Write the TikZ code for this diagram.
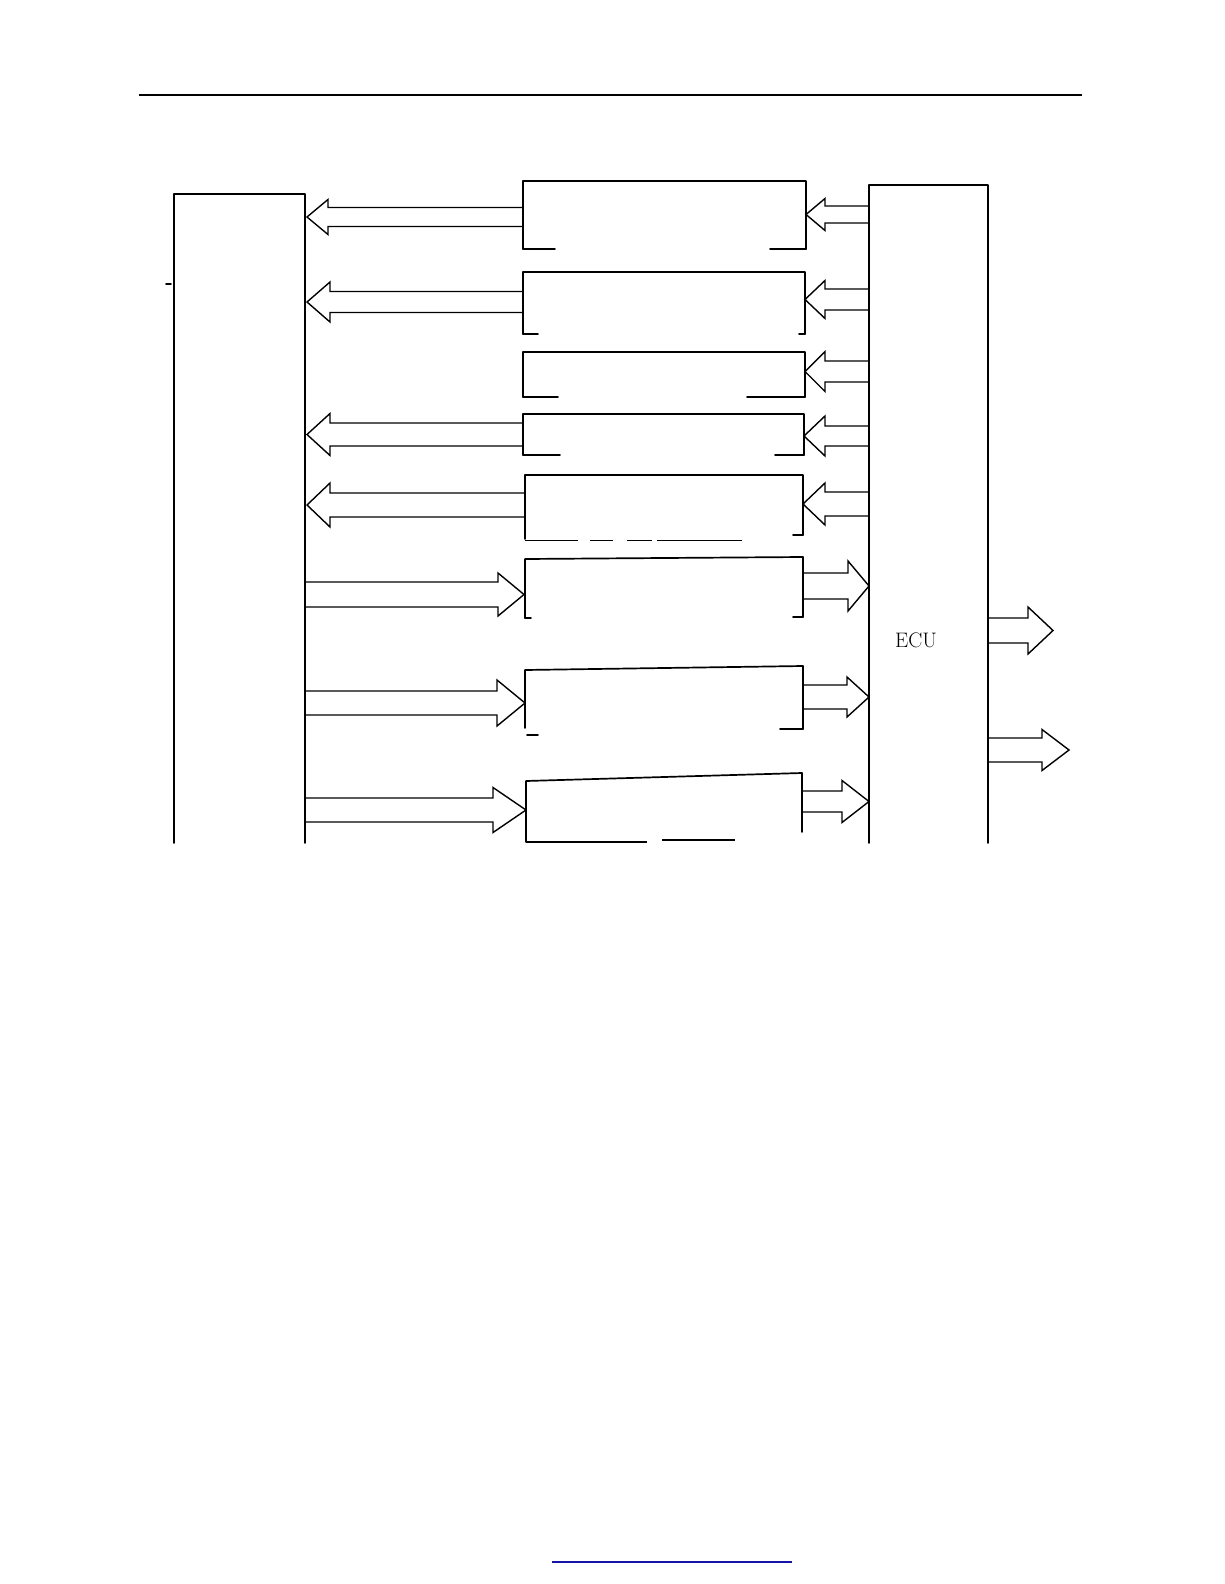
\documentclass[tikz,border=0pt]{standalone}
\usetikzlibrary{calc}
\tikzset{
  edge/.style={line width=1.7pt, line cap=round, line join=round},
  arr/.style={line width=1.4pt, line join=miter},
  rule/.style={line width=1.1pt},
  lbl/.style={font=\fontsize{21}{21}\selectfont, inner sep=0pt}
}
% fat open arrow: base x, head-back x, tip x, centre y, shaft half width, head half width
\newcommand\fatarrow[6]{%
  \draw[arr] (#1,#4-#5) -- (#2,#4-#5) -- (#2,#4-#6) -- (#3,#4) -- (#2,#4+#6) -- (#2,#4+#5) -- (#1,#4+#5);}
\begin{document}
\begin{tikzpicture}[x=1pt,y=-1pt]
\useasboundingbox (0,0) rectangle (1224,1584);
% page rules
\draw[rule] (139,95) coordinate (hl) -- (1082,95) coordinate (hr);
\draw[rule, color={rgb,255:red,20;green,20;blue,170}] (552,1562) coordinate (fl) -- (792,1562) coordinate (fr);

% left block (open at the bottom)
\coordinate (L-tl) at (174,194); \coordinate (L-tr) at (305,194);
\draw[edge] (174,843) -- (L-tl) -- (L-tr) -- (305,843);
\draw[edge] (166,284) -- (171,284);

% ECU block (open at the bottom)
\coordinate (E-tl) at (869,185); \coordinate (E-tr) at (988,185);
\draw[edge] (869,843) -- (E-tl) -- (E-tr) -- (988,843);
\node[lbl] (ecu) at (916,640) {ECU};

% middle boxes (edges as they appear, bottoms partly missing)
\draw[edge] (523,249) -- (523,181) -- (806,181) -- (806,249);
\draw[edge] (523,249) -- (555,249); \draw[edge] (770,249) -- (806,249);

\draw[edge] (523,334) -- (523,272) -- (805,272) -- (805,334);
\draw[edge] (523,334) -- (538,334); \draw[edge] (799,334) -- (805,334);

\draw[edge] (523,397) -- (523,352) -- (805,352) -- (805,397);
\draw[edge] (523,397) -- (558,397); \draw[edge] (747,397) -- (805,397);

\draw[edge] (523,455) -- (523,414) -- (804,414) -- (804,455);
\draw[edge] (523,455) -- (560,455); \draw[edge] (775,455) -- (804,455);

\draw[edge] (525,539) -- (525,475) -- (803,475) -- (803,535);
\draw[edge] (793,535) -- (803,535);
\draw[line width=1pt] (525,540) -- (578,540) (590,540) -- (613,540) (627,540) -- (652,540) (657,540) -- (742,540);

\draw[edge] (525,618) -- (525,559) -- (803,557) -- (803,617);
\draw[edge] (525,618) -- (531,618); \draw[edge] (793,617) -- (803,617);

\draw[edge] (525,728) -- (525,670) -- (803,666) -- (803,729);
\draw[edge] (527,735) -- (538,735); \draw[edge] (780,729) -- (803,729);

\draw[edge] (526,842) -- (526,781) -- (802,773) -- (802,832);
\draw[line width=1.2pt] (526,842) -- (647,842) (662,840) -- (735,840);

% arrows from middle boxes to the left block
\fatarrow{522}{328}{307}{217}{9.5}{17.5}
\fatarrow{522}{330}{307}{302}{10.5}{20}
\fatarrow{523}{330}{307}{434.5}{11.5}{21}
\fatarrow{525}{330}{307}{505}{12}{22}
% arrows from the left block to the middle boxes
\fatarrow{305}{498}{524}{594.5}{12.5}{21.5}
\fatarrow{305}{497}{525}{703}{12}{23}
\fatarrow{305}{493}{526}{810}{12}{22.5}
% arrows from ECU to the middle boxes
\fatarrow{869}{825}{806}{214.5}{8.5}{16}
\fatarrow{869}{825}{805}{299.5}{10.5}{19}
\fatarrow{869}{825}{805}{371.5}{10.5}{20}
\fatarrow{869}{825}{804}{436}{10}{20}
\fatarrow{869}{825}{803}{504}{12}{21}
% arrows from the middle boxes to ECU
\fatarrow{803}{848}{869}{586}{13}{25}
\fatarrow{803}{847}{869}{697}{12}{20}
\fatarrow{802}{842}{869}{801.5}{10.5}{21}
% ECU outputs
\fatarrow{988}{1028}{1053}{630.5}{12.5}{23.5}
\fatarrow{988}{1042}{1069}{750}{12}{20.5}
\end{tikzpicture}
\end{document}
